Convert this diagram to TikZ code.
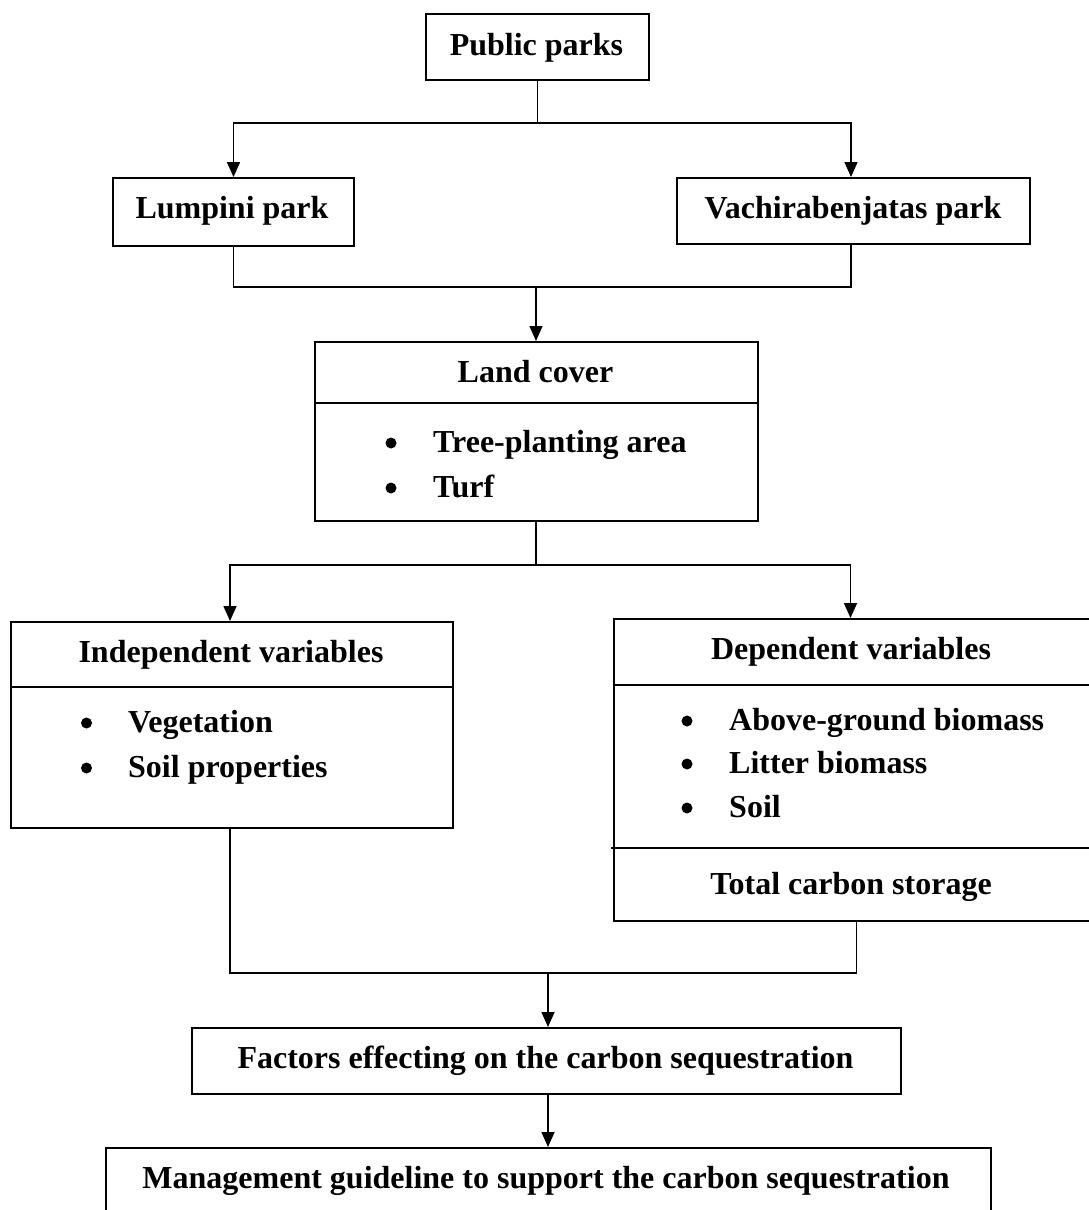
\documentclass[tikz,border=0pt]{standalone}
\usepackage{fontspec}
\setmainfont{Liberation Serif}
\usetikzlibrary{arrows.meta}
\begin{document}
\begin{tikzpicture}[x=1pt,y=-1pt,
  box/.style={draw,line width=2pt,rectangle,inner sep=0pt,anchor=north west},
  divider/.style={line width=2pt},
  conn/.style={line width=1.6pt},
  arr/.style={conn,-{Triangle[length=15pt,width=13pt]}},
  lbl/.style={anchor=base,inner sep=0pt,font=\fontsize{32}{38}\selectfont\bfseries},
  itm/.style={anchor=base west,inner sep=0pt,font=\fontsize{32}{38}\selectfont\bfseries},
  bul/.style={circle,fill,inner sep=0pt,minimum size=11pt}]
\useasboundingbox (0,0) rectangle (1088,1210);

% boxes
\node[box,minimum width=223pt,minimum height=66pt] (pp) at (425,13) {};
\node[box,minimum width=241pt,minimum height=68pt] (lump) at (112,177) {};
\node[box,minimum width=353pt,minimum height=66pt] (vach) at (676,177) {};
\node[box,minimum width=443pt,minimum height=179pt] (land) at (314,341) {};
\node[box,minimum width=442pt,minimum height=206pt] (ind) at (10,621) {};
\node[box,minimum width=480pt,minimum height=302pt] (dep) at (613,618) {};
\node[box,minimum width=709pt,minimum height=66pt] (fac) at (191,1027) {};
\node[box,minimum width=885pt,minimum height=70pt] (mg) at (105,1147) {};

% dividers
\draw[divider] (314,403) -- (759,403);
\draw[divider] (10,687) -- (452,687);
\draw[divider] (613,685) -- (1093,685);
\draw[divider] (611,848) -- (1093,848);

% texts
\node[lbl] (tpp) at (536.5,55) {Public parks};
\node[lbl] (tlump) at (232,218) {Lumpini park};
\node[lbl] (tvach) at (853,218) {Vachirabenjatas park};
\node[lbl] (tland) at (535.5,382) {Land cover};
\node[bul] (b1) at (391,443) {};
\node[itm] (i1) at (433,452) {Tree-planting area};
\node[bul] (b2) at (391,488) {};
\node[itm] (i2) at (433,497) {Turf};
\node[lbl] (tind) at (231,662) {Independent variables};
\node[bul] (b3) at (86.5,723) {};
\node[itm] (i3) at (128,732) {Vegetation};
\node[bul] (b4) at (86.5,768) {};
\node[itm] (i4) at (128,777) {Soil properties};
\node[lbl] (tdep) at (851,659) {Dependent variables};
\node[bul] (b5) at (687,721) {};
\node[itm] (i5) at (729,730) {Above-ground biomass};
\node[bul] (b6) at (687,764) {};
\node[itm] (i6) at (729,773) {Litter biomass};
\node[bul] (b7) at (687,808) {};
\node[itm] (i7) at (729,817) {Soil};
\node[lbl] (ttot) at (851,894) {Total carbon storage};
\node[lbl] (tfac) at (545.5,1068) {Factors effecting on the carbon sequestration};
\node[lbl] (tmg) at (546,1188) {Management guideline to support the carbon sequestration};

% connectors
\coordinate (j1) at (536.5,123);
\draw[conn] (pp.south) -- (pp.south |- j1);
\draw[arr] (j1) -| (lump.north);
\draw[arr] (j1) -| ([xshift=-2.5pt]vach.north);

\coordinate (j2) at (536,287);
\draw[conn] (lump.south) |- (j2);
\draw[conn] ([xshift=-2.5pt]vach.south) |- (j2);
\draw[arr] (j2) -- (j2 |- land.north);

\coordinate (j3) at (536,565);
\draw[conn] (j3 |- land.south) -- (j3);
\draw[arr] (j3) -| ([xshift=-2pt]ind.north);
\draw[arr] (j3) -| ([xshift=-3.5pt]dep.north);

\coordinate (j4) at (548,973);
\draw[conn] ([xshift=-2pt]ind.south) |- (j4);
\draw[conn] ([xshift=2.5pt]dep.south) |- (j4);
\draw[arr] (j4) -- (j4 |- fac.north);
\draw[arr] (j4 |- fac.south) -- (j4 |- mg.north);
\end{tikzpicture}
\end{document}
